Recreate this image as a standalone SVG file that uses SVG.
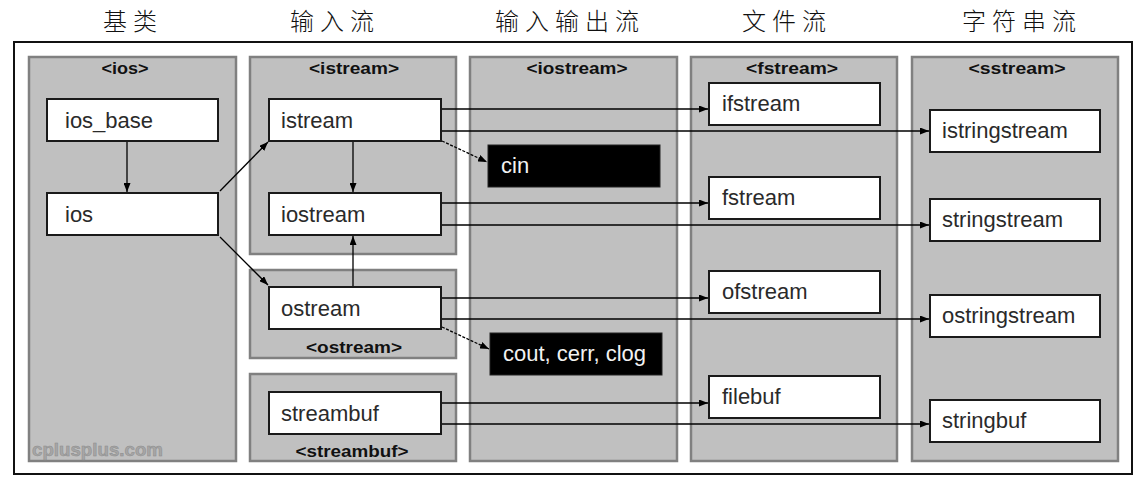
<svg xmlns="http://www.w3.org/2000/svg" width="1142" height="484" viewBox="0 0 1142 484">
<style>
.title{font-family:"Noto Sans CJK SC","Noto Sans",sans-serif;font-size:24px;font-weight:300;letter-spacing:6px;fill:#111}
.panel{fill:#c0c0c0;stroke:#808080;stroke-width:2.5}
.plabel{font-family:"Liberation Sans",Arial,sans-serif;font-weight:bold;font-size:16px;fill:#111;text-anchor:middle}
.box{fill:#fff;stroke:#1a1a1a;stroke-width:2}
.obj{fill:#000;stroke:#222;stroke-width:1}
.t{font-family:"Liberation Sans",Arial,sans-serif;font-size:22px;fill:#2a2a2a}
.tw{font-family:"Liberation Sans",Arial,sans-serif;font-size:22px;fill:#f2f2f2}
.c{stroke:#000;stroke-width:1.3;fill:none;marker-end:url(#ah)}
.d{stroke-dasharray:3,1.5}
.wm{font-family:"Liberation Sans",Arial,sans-serif;font-weight:bold;font-size:18px;fill:#a6a6a6;stroke:#8c8c8c;stroke-width:0.5}
</style>
<defs>
<marker id="ah" viewBox="0 0 9 7" refX="9" refY="3.5" markerWidth="9" markerHeight="7" orient="auto" markerUnits="userSpaceOnUse"><path d="M0,0 L9,3.5 L0,7 z" fill="#000"/></marker>
</defs>
<rect x="0" y="0" width="1142" height="484" fill="#fff"/>
<g id="titles">
<text class="title" x="103" y="30">基类</text>
<text class="title" x="290" y="30">输入流</text>
<text class="title" x="495" y="30">输入输出流</text>
<text class="title" x="742" y="30">文件流</text>
<text class="title" x="962" y="30">字符串流</text>
</g>
<rect id="frame" x="14" y="42" width="1118" height="432" fill="#fff" stroke="#111" stroke-width="2"/>
<g id="panel-ios"><rect class="panel" x="29" y="57" width="207" height="404"/><text class="plabel" x="125" y="74" textLength="47" lengthAdjust="spacingAndGlyphs">&lt;ios&gt;</text>
<text class="wm" x="32" y="456" textLength="131" lengthAdjust="spacingAndGlyphs">cplusplus.com</text></g>
<g id="panel-istream"><rect class="panel" x="250" y="57" width="206" height="197"/><text class="plabel" x="354" y="74" textLength="90" lengthAdjust="spacingAndGlyphs">&lt;istream&gt;</text></g>
<g id="panel-ostream"><rect class="panel" x="250" y="270" width="206" height="88"/><text class="plabel" x="354" y="353" textLength="96" lengthAdjust="spacingAndGlyphs">&lt;ostream&gt;</text></g>
<g id="panel-streambuf"><rect class="panel" x="250" y="374" width="206" height="87"/><text class="plabel" x="352" y="457" textLength="113" lengthAdjust="spacingAndGlyphs">&lt;streambuf&gt;</text></g>
<g id="panel-iostream"><rect class="panel" x="470" y="57" width="207" height="404"/><text class="plabel" x="577" y="74" textLength="101" lengthAdjust="spacingAndGlyphs">&lt;iostream&gt;</text></g>
<g id="panel-fstream"><rect class="panel" x="691" y="57" width="206" height="404"/><text class="plabel" x="792" y="74" textLength="92" lengthAdjust="spacingAndGlyphs">&lt;fstream&gt;</text></g>
<g id="panel-sstream"><rect class="panel" x="912" y="57" width="206" height="404"/><text class="plabel" x="1017" y="74" textLength="97" lengthAdjust="spacingAndGlyphs">&lt;sstream&gt;</text></g>

<g id="connectors">
<line class="c" x1="127" y1="142" x2="127" y2="192"/>
<line class="c" x1="220" y1="191" x2="268" y2="142"/>
<line class="c" x1="220" y1="237" x2="268" y2="285"/>
<line class="c" x1="353" y1="142" x2="353" y2="192"/>
<line class="c" x1="353" y1="286" x2="353" y2="236"/>
<line class="c" x1="442" y1="109" x2="708" y2="109"/>
<line class="c" x1="442" y1="131" x2="929" y2="131"/>
<line class="c d" x1="442" y1="141" x2="487" y2="162"/>
<line class="c" x1="442" y1="203" x2="708" y2="203"/>
<line class="c" x1="442" y1="225" x2="929" y2="225"/>
<line class="c" x1="442" y1="298" x2="708" y2="298"/>
<line class="c" x1="442" y1="319" x2="929" y2="319"/>
<line class="c d" x1="442" y1="327" x2="489" y2="349"/>
<line class="c" x1="442" y1="403" x2="708" y2="403"/>
<line class="c" x1="442" y1="424" x2="929" y2="424"/>
</g>

<g id="node-ios_base"><rect class="box" x="47" y="99" width="171" height="42"/><text class="t" x="65" y="128">ios_base</text></g>
<g id="node-ios"><rect class="box" x="47" y="193" width="171" height="42"/><text class="t" x="65" y="222">ios</text></g>
<g id="node-istream"><rect class="box" x="269" y="99" width="172" height="42"/><text class="t" x="281" y="128">istream</text></g>
<g id="node-iostream"><rect class="box" x="269" y="193" width="172" height="42"/><text class="t" x="281" y="222">iostream</text></g>
<g id="node-ostream"><rect class="box" x="269" y="287" width="172" height="42"/><text class="t" x="281" y="316">ostream</text></g>
<g id="node-streambuf"><rect class="box" x="269" y="392" width="172" height="42"/><text class="t" x="281" y="421">streambuf</text></g>
<g id="node-cin"><rect class="obj" x="488" y="145" width="172" height="42"/><text class="tw" x="501" y="173">cin</text></g>
<g id="node-cout"><rect class="obj" x="490" y="333" width="172" height="42"/><text class="tw" x="503" y="361">cout, cerr, clog</text></g>
<g id="node-ifstream"><rect class="box" x="709" y="83" width="171" height="42"/><text class="t" x="722" y="111">ifstream</text></g>
<g id="node-fstream"><rect class="box" x="709" y="177" width="171" height="42"/><text class="t" x="722" y="205">fstream</text></g>
<g id="node-ofstream"><rect class="box" x="709" y="271" width="171" height="42"/><text class="t" x="722" y="299">ofstream</text></g>
<g id="node-filebuf"><rect class="box" x="709" y="376" width="171" height="42"/><text class="t" x="722" y="404">filebuf</text></g>
<g id="node-istringstream"><rect class="box" x="930" y="110" width="170" height="42"/><text class="t" x="942" y="138">istringstream</text></g>
<g id="node-stringstream"><rect class="box" x="930" y="199" width="170" height="42"/><text class="t" x="942" y="227">stringstream</text></g>
<g id="node-ostringstream"><rect class="box" x="930" y="295" width="170" height="42"/><text class="t" x="942" y="323">ostringstream</text></g>
<g id="node-stringbuf"><rect class="box" x="930" y="400" width="170" height="42"/><text class="t" x="942" y="428">stringbuf</text></g>
</svg>
